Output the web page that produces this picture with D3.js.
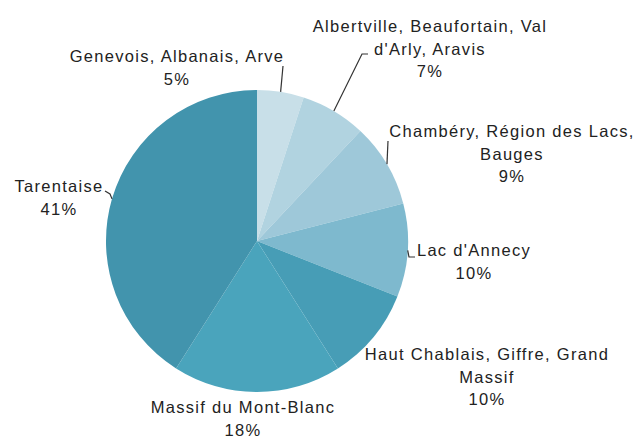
<!DOCTYPE html>
<html><head><meta charset="utf-8">
<script src="https://cdn.jsdelivr.net/npm/d3@7"></script>
<style>body{margin:0;background:#fff}svg{display:block}</style>
</head><body>
<svg id="c" width="640" height="438"></svg>
<script>
const categories = ["Genevois, Albanais, Arve","Albertville, Beaufortain, Val d'Arly, Aravis","Chambéry, Région des Lacs, Bauges","Lac d'Annecy","Haut Chablais, Giffre, Grand Massif","Massif du Mont-Blanc","Tarentaise"];
const values = [5,7,9,10,10,18,41];
const labelLines = [["Genevois, Albanais, Arve"],["Albertville, Beaufortain, Val","d'Arly, Aravis"],["Chambéry, Région des Lacs,","Bauges"],["Lac d'Annecy"],["Haut Chablais, Giffre, Grand","Massif"],["Massif du Mont-Blanc"],["Tarentaise"]];
const colors = ["#c8dfe8","#b1d3e0","#9ec8d9","#7eb9ce","#479db6","#4aa4bc","#4294ad"];

// layout (label centre x, first baseline y) and leader bends
const labelPos = [[177,62],[430,32],[512,137],[474,256],[487,360],[243,413],[59,192]];
const leaders = [
  [[283,66]],
  [[362,54],[368,54]],
  [[388,141]],
  [[409,257],[415,257]],
  null, null,
  [[110,194],[105,191]]
];

const cx=257, cy=241, r=151;
const svg=d3.select("#c");
const g=svg.append("g").attr("transform",`translate(${cx},${cy})`);
const pie=d3.pie().sort(null).value(d=>d);
const arcs=pie(values);
const arc=d3.arc().innerRadius(0).outerRadius(r);
g.selectAll("path.s").data(arcs).join("path").attr("class","s")
  .attr("d",arc).attr("fill",(d,i)=>colors[i]);

// leaders
arcs.forEach((d,i)=>{
  if(!leaders[i]) return;
  const a=(d.startAngle+d.endAngle)/2;
  const p0=[cx+r*Math.sin(a), cy-r*Math.cos(a)];
  const pts=[p0].concat(leaders[i]);
  svg.append("path").attr("d",d3.line()(pts)).attr("fill","none")
    .attr("stroke","#333").attr("stroke-width",1.2);
});

// labels
labelLines.forEach((lines,i)=>{
  const [x,y]=labelPos[i];
  const t=svg.append("text").attr("x",x).attr("y",y)
    .attr("text-anchor","middle").attr("font-family","'Liberation Sans', Arial, sans-serif")
    .attr("font-size",16.5).attr("letter-spacing","1.3px").attr("fill","#222");
  const all=lines.concat([values[i]+"%"]);
  all.forEach((s,j)=>t.append("tspan").attr("x",x).attr("dy",j===0?0:22.5).text(s));
});
</script>
</body></html>
